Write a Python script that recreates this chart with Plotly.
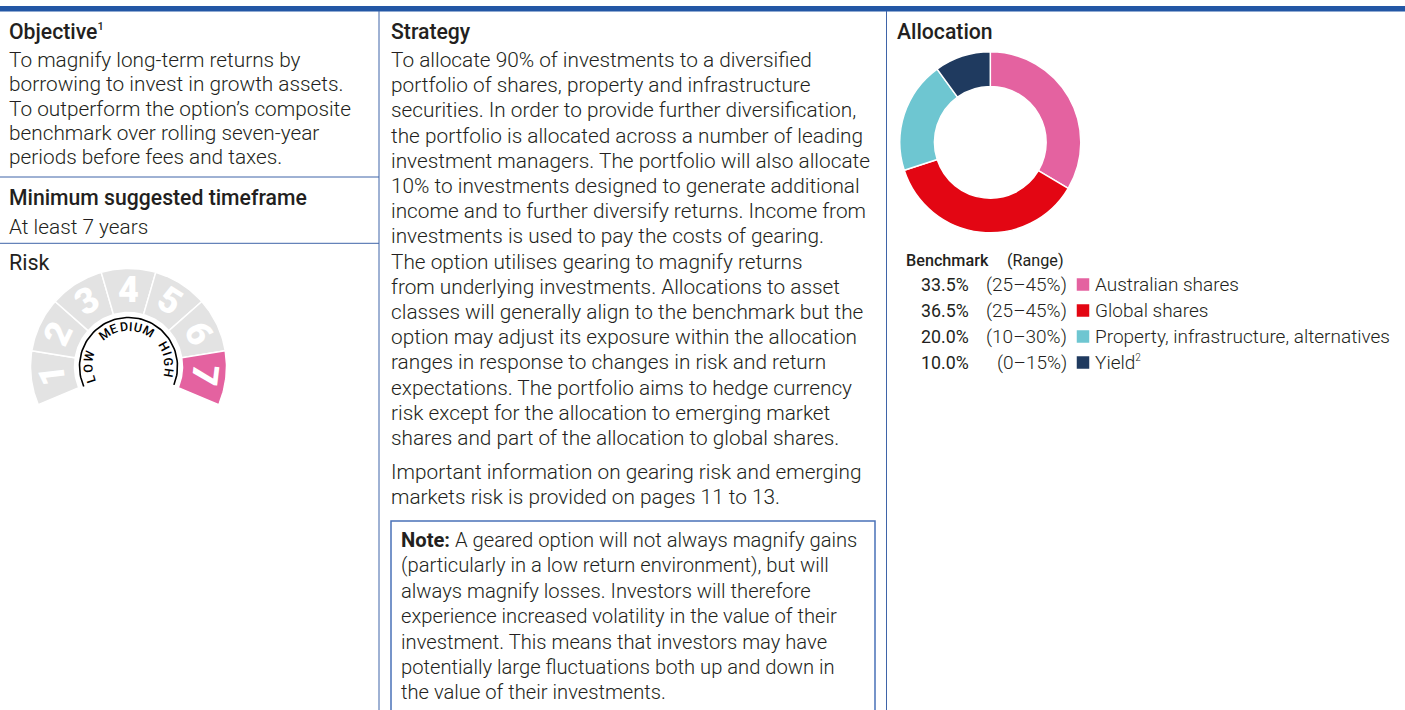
import numpy as np
import plotly.graph_objects as go

W, H = 1405, 710

# ---------------- data ----------------
alloc_labels = ["Australian shares", "Global shares",
                "Property, infrastructure, alternatives",
                "Yield<sup><span style='font-size:10px'>2</span></sup>"]
alloc_values = [33.5, 36.5, 20.0, 10.0]
alloc_ranges = ["(25–45%)", "(25–45%)", "(10–30%)", "(0–15%)"]
alloc_colors = ["#E462A0", "#E30613", "#6EC6D1", "#1F3A5F"]

risk_levels = [1, 2, 3, 4, 5, 6, 7]
risk_rating = 7
risk_word_letters = ["L", "O", "W", "M", "E", "D", "I", "U", "M", "H", "I", "G", "H"]
risk_word_angles = [198, 183, 166, 127, 111, 97, 87, 77, 60, 29, 18, 6, -9]

objective_lines = ["To magnify long-term returns by",
                   "borrowing to invest in growth assets.",
                   "To outperform the option’s composite",
                   "benchmark over rolling seven-year",
                   "periods before fees and taxes."]
timeframe_text = "At least 7 years"
strategy_lines = ["To allocate 90% of investments to a diversified",
                  "portfolio of shares, property and infrastructure",
                  "securities. In order to provide further diversification,",
                  "the portfolio is allocated across a number of leading",
                  "investment managers. The portfolio will also allocate",
                  "10% to investments designed to generate additional",
                  "income and to further diversify returns. Income from",
                  "investments is used to pay the costs of gearing.",
                  "The option utilises gearing to magnify returns",
                  "from underlying investments. Allocations to asset",
                  "classes will generally align to the benchmark but the",
                  "option may adjust its exposure within the allocation",
                  "ranges in response to changes in risk and return",
                  "expectations. The portfolio aims to hedge currency",
                  "risk except for the allocation to emerging market",
                  "shares and part of the allocation to global shares."]
important_lines = ["Important information on gearing risk and emerging",
                   "markets risk is provided on pages 11 to 13."]
note_lines = ["<b>Note:</b> A geared option will not always magnify gains",
              "(particularly in a low return environment), but will",
              "always magnify losses. Investors will therefore",
              "experience increased volatility in the value of their",
              "investment. This means that investors may have",
              "potentially large fluctuations both up and down in",
              "the value of their investments."]

# ---------------- style ----------------
FONT = "Roboto"
TXT = "#231F20"
LINE = "#3F64A8"
BODY = 20.8
HEAD = 21.2
PAD = 2.5
GAUGE_GREY = "#E3E3E3"

fig = go.Figure()
annotations = []
shapes = []


def txt(x, y, s, size=BODY, weight=300, xanchor="left", color=TXT, angle=0, yanchor="middle"):
    if xanchor == "left":
        x = x - PAD
    elif xanchor == "right":
        x = x + PAD
    annotations.append(dict(x=x, y=y, xref="x", yref="y", text=s, showarrow=False,
                            xanchor=xanchor, yanchor=yanchor, textangle=angle,
                            font=dict(family=FONT, size=size, color=color, weight=weight)))


# top bar and column rules
shapes.append(dict(type="rect", xref="x", yref="y", x0=0, x1=W, y0=6, y1=11.5,
                   fillcolor="#2357A5", line_width=0, layer="above"))
for xv in [379, 886.5]:
    shapes.append(dict(type="line", xref="x", yref="y", x0=xv, x1=xv, y0=11, y1=H,
                       line=dict(color=LINE, width=1)))
for yv in [177, 243.3]:
    shapes.append(dict(type="line", xref="x", yref="y", x0=0, x1=379, y0=yv, y1=yv,
                       line=dict(color=LINE, width=1)))
shapes.append(dict(type="rect", xref="x", yref="y", x0=391, x1=875, y0=521, y1=H + 5,
                   line=dict(color="#4A72B8", width=1.5), fillcolor="rgba(0,0,0,0)"))

# ---------------- column 1 ----------------
txt(9, 31, "Objective<sup><span style='font-size:11px'>1</span></sup>", size=HEAD, weight=500)
for i, s in enumerate(objective_lines):
    txt(9, 60 + i * 24.3, s)
txt(9, 197, "Minimum suggested timeframe", size=HEAD, weight=500)
txt(9, 226.5, timeframe_text)
txt(9, 262, "Risk", size=21.5, weight=400)

# risk gauge
cx, cy, r_out, r_in = 128.5, 366.5, 98, 54
start, span = 203.0, 226.0
seg = span / len(risk_levels)
for i, lvl in enumerate(risk_levels):
    a0 = start - i * seg
    a1 = a0 - seg
    th = np.radians(np.linspace(a0, a1, 30))
    xs = np.concatenate([cx + r_out * np.cos(th), cx + r_in * np.cos(th[::-1])])
    ys = np.concatenate([cy - r_out * np.sin(th), cy - r_in * np.sin(th[::-1])])
    col = "#E462A0" if lvl == risk_rating else GAUGE_GREY
    fig.add_trace(go.Scatter(x=np.append(xs, xs[0]), y=np.append(ys, ys[0]), mode="lines",
                             fill="toself", fillcolor=col, line=dict(color="white", width=1.5),
                             hoverinfo="skip", showlegend=False, xaxis="x", yaxis="y"))
    am = (a0 + a1) / 2
    rm = (r_out + r_in) / 2 + 1
    annotations.append(dict(x=cx + rm * np.cos(np.radians(am)), y=cy - rm * np.sin(np.radians(am)),
                            xref="x", yref="y", text=str(lvl), showarrow=False,
                            xanchor="center", yanchor="middle", textangle=90 - am,
                            font=dict(family=FONT, size=36, color="white", weight=900)))

# inner black arc
tha = np.radians(np.linspace(204, -22, 80))
r_arc = 49
fig.add_trace(go.Scatter(x=cx + r_arc * np.cos(tha), y=cy - r_arc * np.sin(tha), mode="lines",
                         line=dict(color="black", width=1.6), hoverinfo="skip", showlegend=False))
r_let = 40.5
for ch, a in zip(risk_word_letters, risk_word_angles):
    annotations.append(dict(x=cx + r_let * np.cos(np.radians(a)), y=cy - r_let * np.sin(np.radians(a)),
                            xref="x", yref="y", text=ch, showarrow=False,
                            xanchor="center", yanchor="middle", textangle=90 - a,
                            font=dict(family=FONT, size=12.5, color="black", weight=500)))

# ---------------- column 2 ----------------
txt(391, 31.5, "Strategy", size=HEAD, weight=500)
for i, s in enumerate(strategy_lines):
    txt(391, 60 + i * 25.2, s)
for i, s in enumerate(important_lines):
    txt(391, 471.5 + i * 25.2, s)
for i, s in enumerate(note_lines):
    txt(401.5, 540 + i * 25.4, s, size=20.2)

# ---------------- column 3 ----------------
txt(897, 31, "Allocation", size=HEAD, weight=500)
pcx, pcy, pr = 990.3, 142.3, 90.5
fig.add_trace(go.Pie(values=alloc_values, labels=alloc_labels, sort=False, direction="clockwise",
                     rotation=0, hole=0.617, textinfo="none", hoverinfo="value",
                     marker=dict(colors=alloc_colors, line=dict(color="white", width=1.5)),
                     domain=dict(x=[(pcx - pr) / W, (pcx + pr) / W],
                                 y=[1 - (pcy + pr) / H, 1 - (pcy - pr) / H]),
                     showlegend=False))

txt(906.5, 260, "Benchmark", size=16.2, weight=500)
txt(1007.5, 260, "(Range)", size=16.2, weight=400)
row_y = [284.5, 310.5, 336.5, 362.5]
for i in range(len(alloc_values)):
    txt(968, row_y[i], f"{alloc_values[i]:.1f}%", size=17.8, weight=400, xanchor="right")
    txt(1066, row_y[i], alloc_ranges[i], size=19, weight=300, xanchor="right")
    txt(1095, row_y[i], alloc_labels[i], size=19, weight=300)
fig.add_trace(go.Scatter(x=[1083] * len(alloc_values), y=row_y, mode="markers",
                         marker=dict(symbol="square", size=12.5, color=alloc_colors, line_width=0),
                         hoverinfo="skip", showlegend=False))

fig.update_layout(
    width=W, height=H, margin=dict(l=0, r=0, t=0, b=0),
    paper_bgcolor="white", plot_bgcolor="white",
    xaxis=dict(range=[0, W], visible=False, fixedrange=True, domain=[0, 1]),
    yaxis=dict(range=[H, 0], visible=False, fixedrange=True, domain=[0, 1]),
    annotations=annotations, shapes=shapes, showlegend=False,
    font=dict(family=FONT, color=TXT),
)

fig.write_html("out.html", config={"displayModeBar": False},
               post_script="document.body.style.margin='0';")
